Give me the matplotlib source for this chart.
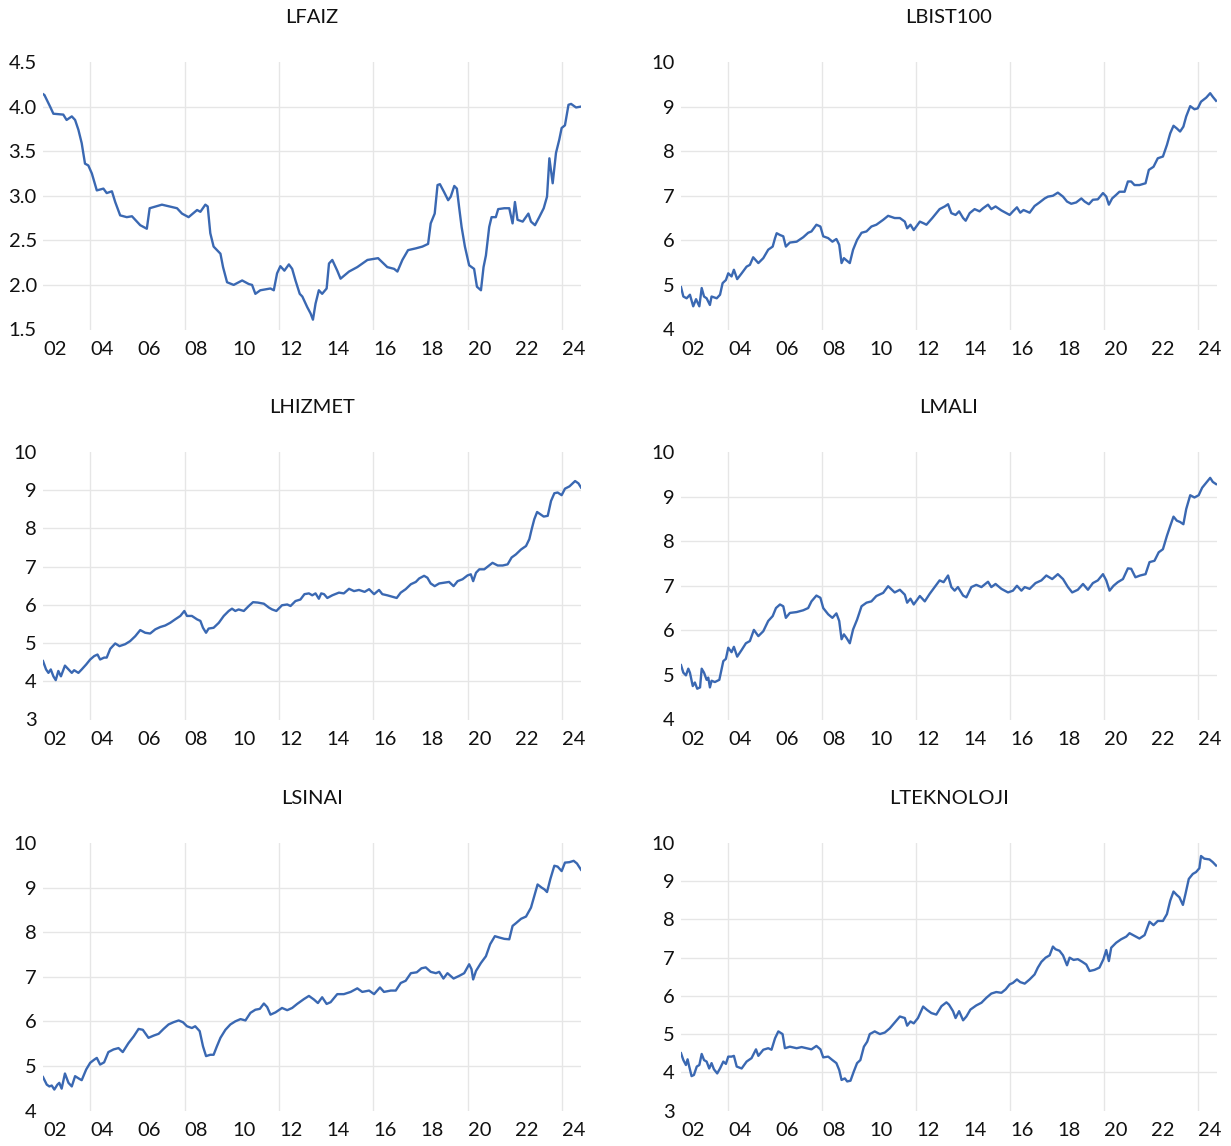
import matplotlib
matplotlib.use("Agg")
import matplotlib.pyplot as plt
import numpy as np

plt.rcParams['font.family'] = ['Lato', 'DejaVu Sans']

# ---------------- data ----------------
faiz_t = [2002.0, 2002.06, 2002.30, 2002.44, 2002.86, 2003.0, 2003.22, 2003.36, 2003.50, 2003.64,
          2003.78, 2003.92, 2004.07, 2004.28, 2004.56, 2004.70, 2004.92, 2005.06, 2005.27, 2005.55,
          2005.77, 2005.91, 2006.12, 2006.40, 2006.52, 2007.04, 2007.68, 2007.89, 2008.17, 2008.53,
          2008.67, 2008.88, 2008.98, 2009.09, 2009.23, 2009.52, 2009.63, 2009.80, 2010.08, 2010.44,
          2010.72, 2010.86, 2011.0, 2011.21, 2011.64, 2011.78, 2011.92, 2012.06, 2012.23, 2012.42,
          2012.56, 2012.70, 2012.88, 2012.99, 2013.2, 2013.34, 2013.44, 2013.55, 2013.69, 2013.83,
          2014.02, 2014.12, 2014.26, 2014.47, 2014.61, 2014.97, 2015.32, 2015.75, 2016.2, 2016.59,
          2016.88, 2017.02, 2017.23, 2017.47, 2017.8, 2018.08, 2018.32, 2018.43, 2018.6, 2018.72,
          2018.82, 2019.0, 2019.17, 2019.28, 2019.43, 2019.54, 2019.64, 2019.74, 2019.88, 2020.06,
          2020.27, 2020.39, 2020.56, 2020.67, 2020.77, 2020.91, 2021.01, 2021.19, 2021.29, 2021.55,
          2021.76, 2021.9, 2022.0, 2022.11, 2022.33, 2022.57, 2022.68, 2022.85, 2023.03, 2023.22,
          2023.36, 2023.46, 2023.6, 2023.74, 2023.88, 2023.98, 2024.12, 2024.27, 2024.38, 2024.59,
          2024.8]
faiz_v = [4.14, 4.13, 4.0, 3.92, 3.91, 3.85, 3.89, 3.85, 3.74, 3.59,
          3.36, 3.34, 3.25, 3.06, 3.08, 3.03, 3.05, 2.93, 2.78, 2.76,
          2.77, 2.73, 2.67, 2.63, 2.86, 2.90, 2.86, 2.80, 2.76, 2.84,
          2.82, 2.90, 2.88, 2.58, 2.43, 2.35, 2.20, 2.03, 2.00, 2.05,
          2.01, 2.00, 1.90, 1.94, 1.96, 1.94, 2.13, 2.21, 2.16, 2.23,
          2.18, 2.05, 1.90, 1.87, 1.75, 1.68, 1.61, 1.79, 1.94, 1.90,
          1.96, 2.24, 2.28, 2.16, 2.07, 2.15, 2.20, 2.28, 2.30, 2.20,
          2.18, 2.15, 2.28, 2.39, 2.41, 2.43, 2.46, 2.69, 2.80, 3.12,
          3.13, 3.04, 2.95, 2.99, 3.11, 3.08, 2.86, 2.65, 2.43, 2.22,
          2.18, 1.98, 1.94, 2.20, 2.33, 2.65, 2.76, 2.76, 2.85, 2.86,
          2.86, 2.69, 2.93, 2.73, 2.71, 2.80, 2.71, 2.67, 2.76, 2.86,
          2.99, 3.42, 3.14, 3.48, 3.63, 3.76, 3.79, 4.02, 4.03, 3.99,
          4.0]

bist_t = [2002.0, 2002.1, 2002.24, 2002.38, 2002.52, 2002.64, 2002.78, 2002.88, 2002.98, 2003.09,
          2003.23, 2003.3, 2003.52, 2003.66, 2003.77, 2003.91, 2004.01, 2004.15, 2004.25, 2004.39,
          2004.58, 2004.79, 2004.93, 2005.07, 2005.29, 2005.5, 2005.71, 2005.9, 2006.0, 2006.07,
          2006.21, 2006.35, 2006.46, 2006.63, 2006.92, 2007.2, 2007.41, 2007.55, 2007.76, 2007.93,
          2008.05, 2008.26, 2008.44, 2008.61, 2008.73, 2008.83, 2008.93, 2009.04, 2009.18, 2009.32,
          2009.49, 2009.68, 2009.89, 2010.1, 2010.31, 2010.6, 2010.81, 2011.09, 2011.31, 2011.52,
          2011.62, 2011.76, 2011.9, 2012.16, 2012.33, 2012.44, 2012.69, 2013.0, 2013.22, 2013.36,
          2013.5, 2013.68, 2013.83, 2014.0, 2014.11, 2014.28, 2014.49, 2014.7, 2014.85, 2015.06,
          2015.2, 2015.38, 2015.63, 2015.84, 2015.98, 2016.12, 2016.29, 2016.43, 2016.57, 2016.83,
          2017.04, 2017.25, 2017.47, 2017.61, 2017.82, 2018.03, 2018.25, 2018.42, 2018.6, 2018.81,
          2019.03, 2019.17, 2019.35, 2019.52, 2019.73, 2019.95, 2020.09, 2020.2, 2020.34, 2020.51,
          2020.65, 2020.87, 2021.01, 2021.15, 2021.29, 2021.5, 2021.76, 2021.9, 2022.1, 2022.28,
          2022.5, 2022.67, 2022.81, 2022.95, 2023.09, 2023.23, 2023.37, 2023.49, 2023.66, 2023.84,
          2023.98, 2024.12, 2024.34, 2024.51, 2024.62, 2024.76]
bist_v = [4.95, 4.74, 4.70, 4.78, 4.52, 4.68, 4.52, 4.93, 4.74, 4.70,
          4.55, 4.74, 4.70, 4.78, 5.04, 5.11, 5.26, 5.19, 5.34, 5.13,
          5.26, 5.41, 5.45, 5.62, 5.49, 5.60, 5.79, 5.86, 6.05, 6.16,
          6.12, 6.09, 5.86, 5.95, 5.97, 6.07, 6.17, 6.20, 6.35, 6.31,
          6.09, 6.05, 5.97, 6.03, 5.90, 5.49, 5.60, 5.55, 5.49, 5.79,
          6.01, 6.17, 6.20, 6.31, 6.35, 6.46, 6.55, 6.50, 6.50, 6.42,
          6.27, 6.35, 6.23, 6.42, 6.38, 6.35, 6.50, 6.70, 6.76, 6.81,
          6.61, 6.57, 6.65, 6.50, 6.44, 6.61, 6.70, 6.65, 6.72, 6.80,
          6.70, 6.76, 6.67, 6.61, 6.57, 6.65, 6.74, 6.62, 6.68, 6.62,
          6.77, 6.85, 6.94, 6.98, 7.00, 7.07, 6.98, 6.87, 6.82, 6.85,
          6.94, 6.87, 6.81, 6.91, 6.92, 7.06, 6.98, 6.80, 6.94, 7.02,
          7.09, 7.09, 7.32, 7.32, 7.24, 7.24, 7.28, 7.58, 7.65, 7.84,
          7.88, 8.14, 8.40, 8.57, 8.51, 8.44, 8.55, 8.78, 9.01, 8.94,
          8.96, 9.11, 9.20, 9.30, 9.22, 9.13]

hizmet_t = [2002.0, 2002.13, 2002.23, 2002.33, 2002.44, 2002.54, 2002.65, 2002.76, 2002.93, 2003.08,
            2003.22, 2003.32, 2003.5, 2003.64, 2003.83, 2004.0, 2004.17, 2004.31, 2004.42, 2004.59,
            2004.7, 2004.85, 2005.06, 2005.24, 2005.48, 2005.69, 2005.91, 2006.12, 2006.33, 2006.54,
            2006.76, 2006.97, 2007.18, 2007.39, 2007.6, 2007.82, 2007.99, 2008.1, 2008.31, 2008.53,
            2008.67, 2008.78, 2008.91, 2009.02, 2009.23, 2009.45, 2009.66, 2009.87, 2010.01, 2010.15,
            2010.29, 2010.51, 2010.72, 2010.9, 2011.1, 2011.36, 2011.57, 2011.71, 2011.89, 2012.13,
            2012.35, 2012.49, 2012.7, 2012.91, 2013.08, 2013.27, 2013.41, 2013.55, 2013.69, 2013.79,
            2013.91, 2014.05, 2014.26, 2014.54, 2014.75, 2014.97, 2015.18, 2015.39, 2015.63, 2015.82,
            2016.03, 2016.24, 2016.38, 2016.59, 2016.81, 2016.99, 2017.16, 2017.37, 2017.59, 2017.8,
            2017.94, 2018.15, 2018.29, 2018.43, 2018.6, 2018.79, 2019.0, 2019.21, 2019.4, 2019.57,
            2019.78, 2019.99, 2020.13, 2020.23, 2020.35, 2020.49, 2020.7, 2020.91, 2021.05, 2021.27,
            2021.48, 2021.69, 2021.86, 2022.04, 2022.26, 2022.47, 2022.61, 2022.71, 2022.82, 2022.94,
            2023.08, 2023.22, 2023.39, 2023.53, 2023.67, 2023.81, 2023.98, 2024.12, 2024.31, 2024.55,
            2024.69, 2024.8]
hizmet_v = [4.53, 4.31, 4.22, 4.31, 4.13, 4.03, 4.27, 4.13, 4.41, 4.31,
            4.22, 4.29, 4.22, 4.31, 4.44, 4.57, 4.66, 4.70, 4.57, 4.62,
            4.62, 4.85, 4.99, 4.92, 4.97, 5.05, 5.18, 5.34, 5.27, 5.25,
            5.36, 5.42, 5.46, 5.53, 5.62, 5.71, 5.84, 5.71, 5.71, 5.62,
            5.58, 5.40, 5.27, 5.38, 5.40, 5.53, 5.71, 5.84, 5.90, 5.84,
            5.88, 5.84, 5.97, 6.07, 6.06, 6.03, 5.93, 5.88, 5.84, 5.99,
            6.01, 5.97, 6.10, 6.14, 6.28, 6.30, 6.25, 6.30, 6.16, 6.30,
            6.28, 6.18, 6.25, 6.32, 6.30, 6.42, 6.36, 6.39, 6.34, 6.41,
            6.28, 6.39, 6.28, 6.25, 6.21, 6.18, 6.32, 6.41, 6.54, 6.60,
            6.69, 6.76, 6.71, 6.56, 6.49, 6.56, 6.58, 6.60, 6.49, 6.62,
            6.67, 6.77, 6.80, 6.62, 6.84, 6.93, 6.93, 7.03, 7.10, 7.03,
            7.03, 7.06, 7.24, 7.32, 7.45, 7.54, 7.72, 7.98, 8.24, 8.43,
            8.37, 8.31, 8.33, 8.72, 8.92, 8.94, 8.87, 9.04, 9.10, 9.24,
            9.18, 9.07]

mali_t = [2002.0, 2002.1, 2002.21, 2002.31, 2002.38, 2002.5, 2002.59, 2002.69, 2002.81, 2002.88,
          2002.98, 2003.09, 2003.16, 2003.23, 2003.3, 2003.44, 2003.63, 2003.8, 2003.91, 2004.01,
          2004.15, 2004.25, 2004.39, 2004.58, 2004.76, 2004.93, 2005.1, 2005.29, 2005.5, 2005.71,
          2005.9, 2006.04, 2006.21, 2006.35, 2006.46, 2006.63, 2006.92, 2007.2, 2007.41, 2007.55,
          2007.76, 2007.93, 2008.05, 2008.26, 2008.44, 2008.61, 2008.73, 2008.83, 2008.93, 2009.04,
          2009.18, 2009.32, 2009.49, 2009.68, 2009.89, 2010.1, 2010.31, 2010.6, 2010.81, 2011.09,
          2011.31, 2011.52, 2011.62, 2011.76, 2011.9, 2012.16, 2012.37, 2012.58, 2012.79, 2013.0,
          2013.17, 2013.36, 2013.5, 2013.64, 2013.78, 2014.0, 2014.14, 2014.35, 2014.56, 2014.78,
          2015.06, 2015.2, 2015.38, 2015.63, 2015.91, 2016.12, 2016.29, 2016.48, 2016.62, 2016.83,
          2017.08, 2017.33, 2017.54, 2017.79, 2018.03, 2018.25, 2018.46, 2018.64, 2018.88, 2019.1,
          2019.31, 2019.52, 2019.73, 2019.95, 2020.09, 2020.23, 2020.4, 2020.58, 2020.8, 2021.01,
          2021.15, 2021.33, 2021.53, 2021.76, 2021.93, 2022.14, 2022.32, 2022.5, 2022.67, 2022.81,
          2022.95, 2023.09, 2023.23, 2023.37, 2023.49, 2023.66, 2023.84, 2024.02, 2024.17, 2024.34,
          2024.51, 2024.62, 2024.76]
mali_v = [5.22, 5.05, 4.99, 5.14, 5.05, 4.75, 4.83, 4.69, 4.72, 5.14,
          5.05, 4.89, 4.94, 4.72, 4.87, 4.84, 4.89, 5.31, 5.36, 5.61,
          5.51, 5.63, 5.41, 5.56, 5.71, 5.76, 6.01, 5.87, 5.98, 6.21,
          6.32, 6.50, 6.58, 6.54, 6.28, 6.39, 6.41, 6.45, 6.50, 6.65,
          6.78, 6.73, 6.50, 6.36, 6.28, 6.38, 6.21, 5.80, 5.91, 5.83,
          5.71, 6.02, 6.24, 6.54, 6.62, 6.65, 6.77, 6.84, 6.99, 6.85,
          6.91, 6.80, 6.62, 6.71, 6.58, 6.77, 6.65, 6.82, 6.97, 7.12,
          7.08, 7.23, 6.97, 6.89, 6.97, 6.78, 6.74, 6.97, 7.02, 6.97,
          7.09, 6.97, 7.04, 6.93, 6.85, 6.89, 7.00, 6.89, 6.97, 6.93,
          7.06, 7.12, 7.23, 7.15, 7.26, 7.15, 6.97, 6.85, 6.91, 7.04,
          6.91, 7.06, 7.12, 7.26, 7.12, 6.89, 7.00, 7.08, 7.15, 7.39,
          7.38, 7.19, 7.23, 7.26, 7.53, 7.56, 7.75, 7.82, 8.12, 8.34,
          8.55, 8.46, 8.43, 8.38, 8.72, 9.03, 8.98, 9.03, 9.20, 9.31,
          9.42, 9.33, 9.28]

sinai_t = [2002.0, 2002.16, 2002.27, 2002.37, 2002.48, 2002.61, 2002.69, 2002.79, 2002.93, 2003.08,
           2003.22, 2003.36, 2003.54, 2003.64, 2003.83, 2004.0, 2004.17, 2004.28, 2004.42, 2004.59,
           2004.77, 2004.99, 2005.2, 2005.38, 2005.62, 2005.84, 2006.05, 2006.23, 2006.47, 2006.69,
           2006.9, 2007.11, 2007.32, 2007.53, 2007.75, 2007.93, 2008.1, 2008.31, 2008.45, 2008.64,
           2008.78, 2008.91, 2009.09, 2009.23, 2009.37, 2009.52, 2009.73, 2009.94, 2010.15, 2010.37,
           2010.58, 2010.79, 2011.0, 2011.19, 2011.36, 2011.5, 2011.64, 2011.85, 2012.13, 2012.35,
           2012.56, 2012.77, 2013.06, 2013.27, 2013.48, 2013.65, 2013.83, 2014.02, 2014.19, 2014.47,
           2014.75, 2015.04, 2015.32, 2015.53, 2015.82, 2016.03, 2016.28, 2016.45, 2016.74, 2016.95,
           2017.16, 2017.37, 2017.59, 2017.84, 2018.04, 2018.22, 2018.43, 2018.65, 2018.79, 2018.97,
           2019.14, 2019.4, 2019.64, 2019.85, 2020.06, 2020.16, 2020.23, 2020.35, 2020.56, 2020.77,
           2020.95, 2021.15, 2021.34, 2021.55, 2021.76, 2021.9, 2022.04, 2022.26, 2022.47, 2022.68,
           2022.82, 2022.96, 2023.13, 2023.25, 2023.36, 2023.5, 2023.67, 2023.81, 2023.98, 2024.12,
           2024.31, 2024.49, 2024.63, 2024.8]
sinai_v = [4.75, 4.58, 4.54, 4.56, 4.47, 4.58, 4.62, 4.49, 4.83, 4.62,
           4.54, 4.77, 4.71, 4.68, 4.92, 5.07, 5.14, 5.18, 5.03, 5.08,
           5.31, 5.37, 5.40, 5.31, 5.51, 5.66, 5.83, 5.81, 5.63, 5.68,
           5.72, 5.83, 5.93, 5.98, 6.02, 5.98, 5.89, 5.85, 5.89, 5.78,
           5.44, 5.22, 5.25, 5.25, 5.44, 5.63, 5.81, 5.93, 6.00, 6.05,
           6.02, 6.19, 6.26, 6.28, 6.40, 6.32, 6.15, 6.20, 6.30, 6.25,
           6.30, 6.39, 6.50, 6.57, 6.49, 6.41, 6.54, 6.39, 6.43, 6.61,
           6.61, 6.66, 6.74, 6.66, 6.69, 6.61, 6.76, 6.66, 6.69, 6.69,
           6.86, 6.91, 7.08, 7.10, 7.19, 7.21, 7.11, 7.08, 7.11, 6.96,
           7.08, 6.96, 7.02, 7.08, 7.28, 7.17, 6.94, 7.13, 7.31, 7.46,
           7.73, 7.91, 7.88, 7.85, 7.84, 8.14, 8.20, 8.30, 8.35, 8.55,
           8.81, 9.07, 9.00, 8.96, 8.90, 9.19, 9.49, 9.47, 9.37, 9.56,
           9.57, 9.60, 9.54, 9.40]

tek_t = [2002.0, 2002.1, 2002.21, 2002.28, 2002.35, 2002.45, 2002.55, 2002.67, 2002.78, 2002.88,
         2002.98, 2003.09, 2003.2, 2003.3, 2003.4, 2003.54, 2003.66, 2003.8, 2003.91, 2004.01,
         2004.15, 2004.25, 2004.37, 2004.58, 2004.79, 2005.0, 2005.19, 2005.29, 2005.5, 2005.71,
         2005.85, 2006.0, 2006.14, 2006.32, 2006.42, 2006.63, 2006.92, 2007.13, 2007.34, 2007.55,
         2007.76, 2007.93, 2008.05, 2008.26, 2008.44, 2008.61, 2008.73, 2008.83, 2008.97, 2009.07,
         2009.21, 2009.35, 2009.49, 2009.63, 2009.78, 2009.92, 2010.03, 2010.24, 2010.46, 2010.67,
         2010.88, 2011.09, 2011.31, 2011.52, 2011.62, 2011.76, 2011.9, 2012.08, 2012.3, 2012.47,
         2012.65, 2012.86, 2013.08, 2013.29, 2013.4, 2013.57, 2013.68, 2013.83, 2014.0, 2014.14,
         2014.31, 2014.56, 2014.78, 2014.99, 2015.2, 2015.41, 2015.63, 2015.81, 2015.98, 2016.12,
         2016.29, 2016.43, 2016.62, 2016.83, 2017.04, 2017.18, 2017.33, 2017.51, 2017.68, 2017.82,
         2017.93, 2018.1, 2018.25, 2018.42, 2018.53, 2018.7, 2018.88, 2019.07, 2019.24, 2019.38,
         2019.59, 2019.8, 2019.97, 2020.09, 2020.2, 2020.3, 2020.51, 2020.72, 2020.94, 2021.08,
         2021.29, 2021.5, 2021.72, 2021.93, 2022.1, 2022.28, 2022.5, 2022.67, 2022.81, 2022.95,
         2023.09, 2023.2, 2023.35, 2023.46, 2023.6, 2023.77, 2023.91, 2024.05, 2024.12, 2024.26,
         2024.48, 2024.62, 2024.76]
tek_v = [4.50, 4.32, 4.19, 4.34, 4.15, 3.90, 3.93, 4.15, 4.19, 4.48,
         4.32, 4.28, 4.10, 4.24, 4.08, 3.97, 4.10, 4.28, 4.22, 4.41,
         4.41, 4.43, 4.15, 4.10, 4.28, 4.37, 4.60, 4.43, 4.59, 4.63,
         4.59, 4.89, 5.07, 5.00, 4.63, 4.67, 4.63, 4.66, 4.63, 4.60,
         4.69, 4.60, 4.39, 4.41, 4.32, 4.24, 4.06, 3.80, 3.84, 3.76,
         3.78, 4.02, 4.24, 4.32, 4.67, 4.80, 5.00, 5.07, 5.00, 5.04,
         5.15, 5.30, 5.46, 5.42, 5.22, 5.33, 5.28, 5.42, 5.72, 5.63,
         5.55, 5.51, 5.73, 5.83, 5.77, 5.60, 5.42, 5.60, 5.36, 5.46,
         5.64, 5.75, 5.82, 5.95, 6.06, 6.10, 6.08, 6.17, 6.30, 6.34,
         6.43, 6.36, 6.32, 6.43, 6.56, 6.74, 6.89, 7.00, 7.06, 7.29,
         7.22, 7.18, 7.06, 6.80, 7.00, 6.94, 6.96, 6.89, 6.82, 6.65,
         6.68, 6.74, 6.96, 7.20, 6.91, 7.26, 7.39, 7.48, 7.55, 7.64,
         7.57, 7.50, 7.59, 7.94, 7.85, 7.96, 7.96, 8.14, 8.49, 8.73,
         8.64, 8.58, 8.38, 8.67, 9.06, 9.19, 9.24, 9.34, 9.66, 9.59,
         9.57, 9.50, 9.41]

titles = ["LFAIZ", "LBIST100", "LHIZMET", "LMALI", "LSINAI", "LTEKNOLOJI"]
series_t = [faiz_t, bist_t, hizmet_t, mali_t, sinai_t, tek_t]
series_v = [faiz_v, bist_v, hizmet_v, mali_v, sinai_v, tek_v]
y_ticks = [
    [1.5, 2.0, 2.5, 3.0, 3.5, 4.0, 4.5],
    [4, 5, 6, 7, 8, 9, 10],
    [3, 4, 5, 6, 7, 8, 9, 10],
    [4, 5, 6, 7, 8, 9, 10],
    [4, 5, 6, 7, 8, 9, 10],
    [3, 4, 5, 6, 7, 8, 9, 10],
]
y_fmt = ["{:.1f}", "{:.0f}", "{:.0f}", "{:.0f}", "{:.0f}", "{:.0f}"]
grid_years = [2004, 2008, 2012, 2016, 2020, 2024]
label_years = list(range(2002, 2025, 2))
x_range = (2002.0, 2024.8)

# ---------------- figure ----------------
W, H = 1231, 1146
fig = plt.figure(figsize=(W / 100, H / 100), dpi=100)
fig.patch.set_facecolor("white")

col_left = [43 / W, 681 / W]
col_width = [538 / W, 536 / W]
row_bottom = [(H - 329.5) / H, (H - 719.5) / H, (H - 1110.5) / H]
row_height = 267.5 / H

LINE = "#3a68b2"
GRID = "#e6e6e6"
FS = 14.5

for i in range(6):
    r, c = divmod(i, 2)
    ax = fig.add_axes([col_left[c], row_bottom[r], col_width[c], row_height])
    yt = y_ticks[i]
    for gy in grid_years:
        ax.axvline(gy, color=GRID, lw=1.0, zorder=0)
    for v in yt[1:-1]:
        ax.axhline(v, color=GRID, lw=1.0, zorder=0)
    ax.plot(series_t[i], series_v[i], color=LINE, lw=1.7, zorder=3)
    ax.set_xlim(*x_range)
    ax.set_ylim(yt[0], yt[-1])
    ax.set_yticks(yt)
    ax.set_yticklabels([y_fmt[i].format(v) for v in yt])
    ax.set_xticks([y + 0.5 for y in label_years])
    ax.set_xticklabels(["%02d" % (y % 100) for y in label_years])
    ax.tick_params(axis="both", length=0, labelsize=FS, colors="#111111")
    ax.tick_params(axis="y", pad=4.5)
    ax.tick_params(axis="x", pad=8)
    for s in ax.spines.values():
        s.set_visible(False)
    ax.set_title(titles[i], fontsize=FS, pad=28, color="#111111")

fig.savefig("out.png", dpi=100, facecolor="white")
